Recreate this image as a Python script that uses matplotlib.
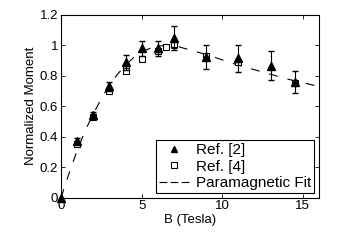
import matplotlib.pyplot as plt
from matplotlib.lines import Line2D

plt.rcParams['font.family'] = ['Liberation Sans', 'DejaVu Sans']
plt.rcParams['font.size'] = 9.5

# Ref. [2] (triangles)
b_ref2 = [0, 1, 2, 3, 4, 5, 6, 7, 9, 11, 13, 14.5]
m_ref2 = [0.0, 0.37, 0.54, 0.73, 0.89, 0.98, 0.98, 1.05, 0.925, 0.915, 0.865, 0.76]
e_ref2 = [0.0, 0.02, 0.02, 0.03, 0.05, 0.05, 0.05, 0.08, 0.08, 0.09, 0.095, 0.07]

# Ref. [4] (open squares)
b_ref4 = [1, 2, 3, 4, 4, 5, 6, 6.5, 7, 9, 11, 14.5]
m_ref4 = [0.35, 0.53, 0.70, 0.86, 0.83, 0.91, 0.96, 0.99, 1.01, 0.93, 0.89, 0.75]
e_ref4 = [0.0, 0.0, 0.0, 0.0, 0.0, 0.0, 0.0, 0.0, 0.03, 0.0, 0.0, 0.0]

# Paramagnetic fit
b_fit = [0, 0.5, 1, 1.5, 2, 2.5, 3, 3.5, 4, 4.5, 5, 5.5, 6, 6.5, 7,
         8, 9, 10, 11, 12, 13, 14, 15, 16]
m_fit = [0.0, 0.16, 0.31, 0.44, 0.55, 0.65, 0.74, 0.81, 0.87, 0.92, 0.955, 0.98,
         0.995, 1.0, 1.0, 0.97, 0.94, 0.905, 0.87, 0.84, 0.81, 0.78, 0.755, 0.73]

fig = plt.figure(figsize=(3.39, 2.41), dpi=100)
ax = fig.add_axes([0.18, 0.18, 0.761, 0.758])

dash = (0, (8, 9))
ax.plot(b_fit, m_fit, linestyle=dash, color='black', linewidth=0.8, zorder=1)
ax.errorbar(b_ref4, m_ref4, yerr=e_ref4, fmt='s', mfc='white', mec='black',
            ecolor='black', ms=5, mew=0.8, elinewidth=0.8, capsize=2, zorder=2)
eb = ax.errorbar(b_ref2, m_ref2, yerr=e_ref2, fmt='^', color='black', ms=6,
                 elinewidth=0.8, capsize=2, zorder=3)
eb[0].set_clip_on(False)

ax.set_xlim(0, 16)
ax.set_ylim(0, 1.2)
ax.set_xticks([0, 5, 10, 15])
ax.set_yticks([0, 0.2, 0.4, 0.6, 0.8, 1.0, 1.2])
ax.set_yticklabels(['0', '0.2', '0.4', '0.6', '0.8', '1', '1.2'])
ax.tick_params(direction='in', top=True, right=True, length=3, width=0.6, pad=2)
for s in ax.spines.values():
    s.set_linewidth(0.8)

ax.set_xlabel('B (Tesla)', labelpad=1)
ax.set_ylabel('Normalized Moment', labelpad=2)

# legend handles without error bars, as in the original
h2 = Line2D([], [], marker='^', color='black', linestyle='none', ms=5)
h4 = Line2D([], [], marker='s', mfc='white', mec='black', linestyle='none',
            ms=4, mew=0.8)
hf = Line2D([], [], color='black', linestyle=(0, (7, 3)), linewidth=0.8)
leg = ax.legend([h2, h4, hf], ['Ref. [2]', 'Ref. [4]', 'Paramagnetic Fit'],
                loc='lower right', fancybox=False, edgecolor='black',
                framealpha=1, fontsize=11, borderaxespad=0.3, handlelength=2.0,
                handletextpad=0.45, labelspacing=0.15, borderpad=0.2)
leg.get_frame().set_linewidth(0.8)

fig.savefig('out.png', dpi=100)
